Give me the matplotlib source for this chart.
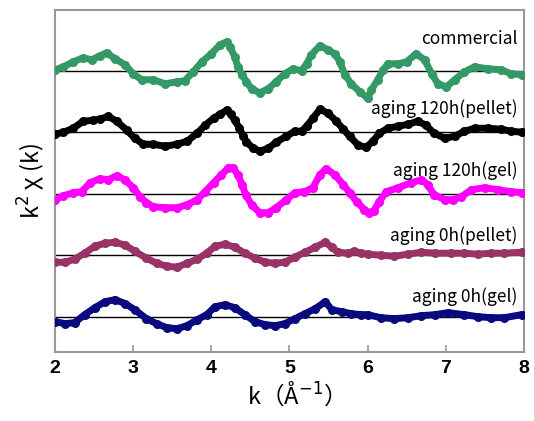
import numpy as np
import matplotlib.pyplot as plt

plt.rcParams['font.family'] = ['Noto Sans CJK JP', 'DejaVu Sans']

# k values and k^2 chi(k) for each sample (arbitrary units)
k_com = [2.0, 2.107, 2.234, 2.36, 2.47, 2.575, 2.66, 2.77, 2.895, 3.0, 3.11, 3.26, 3.41, 3.56, 3.66, 3.77, 3.88,
         4.0, 4.11, 4.196, 4.24, 4.30, 4.34, 4.395, 4.45, 4.515, 4.62, 4.73, 4.83, 4.94, 5.05, 5.155, 5.22, 5.28,
         5.39, 5.495, 5.58, 5.645, 5.71, 5.79, 5.90, 6.0, 6.05, 6.13, 6.2, 6.26, 6.39, 6.50, 6.62, 6.73, 6.82,
         6.90, 7.01, 7.115, 7.24, 7.37, 7.54, 7.71, 7.84, 7.98]
chi_com = [0.1, 0.4, 0.9, 1.3, 1.1, 1.5, 1.8, 1.2, 0.6, -0.3, -0.9, -0.9, -1.3, -1.1, -1.0, -0.1, 0.9,
           1.7, 2.6, 2.9, 2.4, 1.4, 0.4, -0.4, -1.1, -1.8, -2.2, -1.8, -1.1, -0.3, 0.2, 0.0, 0.7, 1.6,
           2.5, 2.1, 1.7, 0.9, -0.4, -1.3, -2.1, -2.75, -1.9, -0.9, 0.1, 0.7, 0.7, 0.9, 1.7, 1.1, -0.3,
           -1.3, -1.6, -0.9, -0.1, 0.4, 0.2, 0.1, -0.3, -0.4]

k_p120 = [2.0, 2.107, 2.234, 2.36, 2.49, 2.575, 2.68, 2.79, 2.92, 3.02, 3.13, 3.26, 3.41, 3.56, 3.69, 3.82, 3.92,
          4.03, 4.11, 4.196, 4.25, 4.30, 4.36, 4.41, 4.45, 4.54, 4.62, 4.73, 4.83, 4.96, 5.07, 5.155, 5.22, 5.30,
          5.39, 5.495, 5.60, 5.69, 5.77, 5.88, 5.98, 6.07, 6.15, 6.26, 6.39, 6.52, 6.64, 6.75, 6.85, 6.99,
          7.115, 7.24, 7.37, 7.54, 7.71, 7.84, 7.98]
chi_p120 = [-0.2, 0.0, 0.4, 1.1, 1.2, 1.3, 1.6, 1.1, 0.2, -0.6, -1.2, -1.2, -1.4, -1.2, -0.9, -0.1, 0.7,
            1.4, 1.8, 2.2, 1.8, 1.2, 0.4, -0.4, -1.0, -1.6, -1.9, -1.6, -1.0, -0.4, 0.1, 0.1, 0.6, 1.4,
            2.3, 1.9, 1.1, 0.3, -0.4, -1.3, -1.5, -0.9, -0.1, 0.4, 0.6, 0.8, 1.1, 0.7, -0.1, -0.6,
            -0.4, 0.1, 0.4, 0.4, 0.3, 0.1, 0.0]

k_g120 = [2.0, 2.107, 2.234, 2.34, 2.45, 2.575, 2.68, 2.79, 2.895, 3.0, 3.09, 3.17, 3.26, 3.41, 3.56, 3.69, 3.82,
          3.92, 4.03, 4.13, 4.22, 4.28, 4.34, 4.395, 4.44, 4.515, 4.62, 4.73, 4.83, 4.96, 5.07, 5.19, 5.30,
          5.39, 5.47, 5.58, 5.69, 5.77, 5.86, 5.96, 6.02, 6.08, 6.15, 6.24, 6.39, 6.56, 6.69, 6.77, 6.85,
          6.99, 7.09, 7.20, 7.33, 7.50, 7.67, 7.84, 7.98]
chi_g120 = [-0.6, -0.2, 0.1, 0.2, 1.1, 1.5, 1.4, 1.8, 1.4, 0.6, -0.3, -0.9, -1.3, -1.4, -1.4, -1.1, -0.6,
            0.2, 1.1, 1.9, 2.6, 2.6, 1.9, 0.9, -0.1, -1.1, -1.9, -1.9, -1.4, -0.6, 0.1, 0.2, 0.6,
            1.9, 2.5, 1.9, 0.9, 0.1, -0.8, -1.6, -1.9, -1.7, -0.8, 0.2, 0.6, 1.1, 1.4, 0.9, -0.1,
            -0.6, -0.6, -0.3, 0.4, 0.6, 0.4, 0.2, 0.1]

k_p0 = [2.0, 2.13, 2.25, 2.38, 2.51, 2.64, 2.77, 2.90, 3.02, 3.17, 3.30, 3.43, 3.56, 3.69, 3.82, 3.94,
        4.05, 4.18, 4.30, 4.43, 4.56, 4.69, 4.82, 4.94, 5.07, 5.20, 5.33, 5.46, 5.54, 5.62, 5.75, 5.83,
        5.92, 6.0, 6.17, 6.34, 6.52, 6.69, 6.86, 7.07, 7.24, 7.41, 7.58, 7.75, 7.97]
chi_p0 = [-0.7, -0.7, -0.4, 0.2, 0.9, 1.2, 1.3, 1.0, 0.4, -0.3, -0.8, -1.1, -1.2, -0.8, -0.4, 0.2,
          0.9, 1.1, 0.8, 0.2, -0.3, -0.7, -0.8, -0.7, -0.2, 0.3, 0.8, 1.3, 0.8, 0.3, 0.2, 0.4,
          0.2, 0.1, 0.0, -0.1, 0.1, 0.3, 0.2, 0.2, 0.2, 0.1, 0.2, 0.2, 0.3]

k_g0 = [2.0, 2.13, 2.25, 2.38, 2.51, 2.64, 2.77, 2.90, 3.02, 3.17, 3.30, 3.43, 3.56, 3.69, 3.82, 3.94,
        4.05, 4.18, 4.30, 4.43, 4.56, 4.69, 4.82, 4.94, 5.07, 5.20, 5.33, 5.46, 5.54, 5.67, 5.79, 5.92,
        6.0, 6.17, 6.34, 6.52, 6.69, 6.86, 7.03, 7.24, 7.41, 7.58, 7.75, 7.97]
chi_g0 = [-0.5, -0.7, -0.6, 0.2, 0.9, 1.5, 1.7, 1.3, 0.7, -0.2, -0.7, -1.1, -1.2, -0.9, -0.3, 0.2,
          1.0, 1.2, 0.9, 0.2, -0.5, -0.8, -0.9, -0.7, -0.2, 0.3, 0.8, 1.5, 0.7, 0.5, 0.3, 0.2,
          0.2, -0.1, -0.2, -0.1, 0.1, 0.2, 0.4, 0.2, 0.0, -0.1, -0.1, 0.2]

labels = ['aging 0h(gel)', 'aging 0h(pellet)', 'aging 120h(gel)', 'aging 120h(pellet)', 'commercial']
colors = ['#0a0a80', '#993366', '#ff00ff', '#000000', '#339966']
series = [(k_g0, chi_g0), (k_p0, chi_p0), (k_g120, chi_g120), (k_p120, chi_p120), (k_com, chi_com)]
label_dy = [2.0, 2.0, 2.35, 2.4, 3.15]
step = 6.15

fig = plt.figure(figsize=(5.34, 4.21), dpi=100)
ax = fig.add_axes([0.103, 0.164, 0.878, 0.812])

for i, ((k, chi), c) in enumerate(zip(series, colors)):
    off = i * step
    ax.axhline(off, color='black', lw=1.0, zorder=1)
    y = np.array(chi) + off
    ax.plot(k, y, color=c, lw=5.0, solid_capstyle='round', solid_joinstyle='round', zorder=2)
    ax.plot(k, y, 'o', color=c, ms=6.5, mec='none', zorder=3)
    ax.text(7.92, off + label_dy[i], labels[i], ha='right', va='center', fontsize=12.5, color='black')

ax.set_xlim(2, 8)
ax.set_ylim(-3.53, 30.67)
ax.set_xticks([2, 3, 4, 5, 6, 7, 8])
ax.set_yticks([])
ax.tick_params(axis='x', direction='in', length=5, color='#999999', width=1.2, labelsize=14, pad=6)
for lab in ax.get_xticklabels():
    lab.set_fontweight('bold')
    lab.set_family(['Liberation Sans', 'DejaVu Sans'])
for s in ax.spines.values():
    s.set_color('#999999')
    s.set_linewidth(1.5)

ax.set_xlabel('k（Å$^{-1}$）', fontsize=17, labelpad=2)
ax.set_ylabel('k$^2$ χ (k)', fontsize=17, labelpad=6)

fig.savefig('out.png', dpi=100)
